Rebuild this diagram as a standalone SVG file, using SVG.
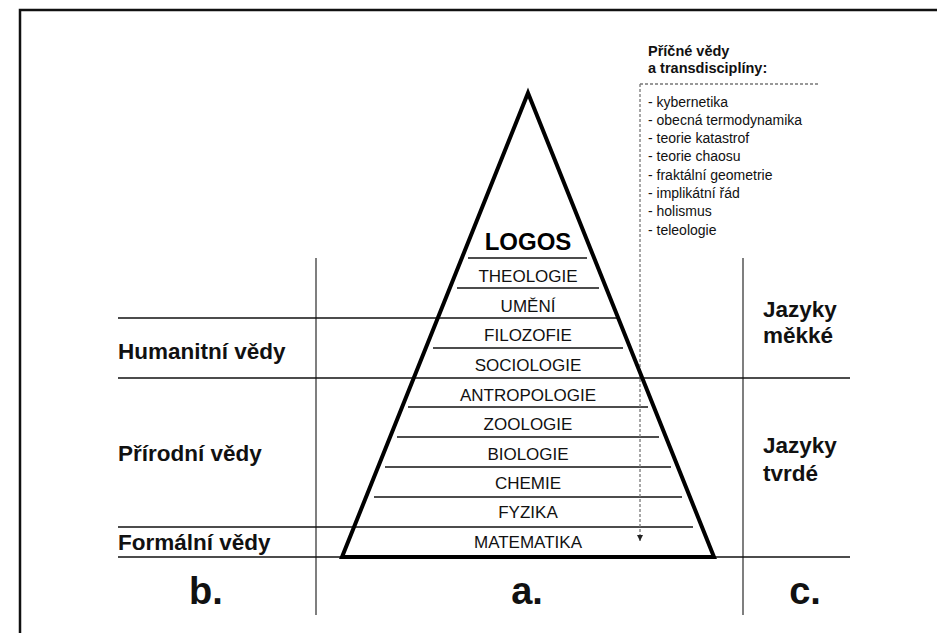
<svg xmlns="http://www.w3.org/2000/svg" width="937" height="633" viewBox="0 0 937 633">
<style>
.fr{fill:none;stroke:#111;stroke-width:2.5}
.hl{stroke:#111;stroke-width:1.3;fill:none}
.vl{stroke:#555;stroke-width:1.5;fill:none}
.dash{stroke:#777;stroke-width:1.3;stroke-dasharray:3 2;fill:none}
.tri{fill:none;stroke:#000;stroke-width:4;stroke-linejoin:miter}
.row{font-family:"Liberation Sans",Arial,sans-serif;font-size:17px;fill:#111;text-anchor:middle}
.logos{font-family:"Liberation Sans",Arial,sans-serif;font-size:24px;font-weight:bold;fill:#000;text-anchor:middle}
.lab{font-family:"Liberation Sans",Arial,sans-serif;font-size:22.5px;font-weight:bold;fill:#111}
.big{font-family:"Liberation Sans",Arial,sans-serif;font-size:38px;font-weight:bold;fill:#111;text-anchor:middle}
.ttl{font-family:"Liberation Sans",Arial,sans-serif;font-size:14.5px;font-weight:bold;fill:#111}
.li{font-family:"Liberation Sans",Arial,sans-serif;font-size:14px;fill:#111}
</style>
<defs>
<marker id="ah" viewBox="0 0 6 6" refX="6" refY="3" markerWidth="6" markerHeight="6" markerUnits="userSpaceOnUse" orient="auto">
<path d="M0,0 L6,3 L0,6 Z" fill="#222"/>
</marker>
</defs>
<rect width="937" height="633" fill="#fff"/>
<rect class="fr" x="20" y="10" width="940" height="640"/>

<g id="connectors">
<line class="vl" x1="316" y1="258" x2="316" y2="615"/>
<line class="vl" x1="743" y1="258" x2="743" y2="615"/>
<line class="hl" x1="118" y1="318" x2="617" y2="318"/>
<line class="hl" x1="118" y1="378" x2="850" y2="378"/>
<line class="hl" x1="118" y1="527" x2="693" y2="527"/>
<line class="hl" x1="118" y1="557" x2="850" y2="557"/>
<line class="hl" x1="468" y1="258" x2="587" y2="258"/>
<line class="hl" x1="457" y1="288" x2="599" y2="288"/>
<line class="hl" x1="433" y1="348" x2="623" y2="348"/>
<line class="hl" x1="408" y1="407" x2="648" y2="407"/>
<line class="hl" x1="397" y1="437" x2="659" y2="437"/>
<line class="hl" x1="385" y1="467" x2="671" y2="467"/>
<line class="hl" x1="374" y1="497" x2="682" y2="497"/>
<line class="dash" x1="818" y1="84" x2="640" y2="84"/>
<line class="dash" x1="640" y1="84" x2="640" y2="541" marker-end="url(#ah)"/>
</g>

<g id="pyramid">
<path class="tri" d="M528,93 L714,557 L342,557 Z"/>
</g>

<g id="logos"><text class="logos" x="528" y="250">LOGOS</text></g>
<g id="theologie"><text class="row" x="528" y="282">THEOLOGIE</text></g>
<g id="umeni"><text class="row" x="528" y="312">UMĚNÍ</text></g>
<g id="filozofie"><text class="row" x="528" y="341">FILOZOFIE</text></g>
<g id="sociologie"><text class="row" x="528" y="371">SOCIOLOGIE</text></g>
<g id="antropologie"><text class="row" x="528" y="401">ANTROPOLOGIE</text></g>
<g id="zoologie"><text class="row" x="528" y="430">ZOOLOGIE</text></g>
<g id="biologie"><text class="row" x="528" y="460">BIOLOGIE</text></g>
<g id="chemie"><text class="row" x="528" y="489">CHEMIE</text></g>
<g id="fyzika"><text class="row" x="528" y="518">FYZIKA</text></g>
<g id="matematika"><text class="row" x="528" y="548">MATEMATIKA</text></g>

<g id="humanitni"><text class="lab" x="118" y="359">Humanitní vědy</text></g>
<g id="prirodni"><text class="lab" x="118" y="461">Přírodní vědy</text></g>
<g id="formalni"><text class="lab" x="118" y="550">Formální vědy</text></g>

<g id="jazyky-mekke"><text class="lab" x="763" y="317">Jazyky</text><text class="lab" x="763" y="343">měkké</text></g>
<g id="jazyky-tvrde"><text class="lab" x="763" y="453">Jazyky</text><text class="lab" x="763" y="481">tvrdé</text></g>

<g id="label-b"><text class="big" x="206" y="604">b.</text></g>
<g id="label-a"><text class="big" x="527" y="604">a.</text></g>
<g id="label-c"><text class="big" x="805" y="604">c.</text></g>

<g id="transdiscipliny">
<text class="ttl" x="648" y="56">Příčné vědy</text>
<text class="ttl" x="648" y="73">a transdisciplíny:</text>
<text class="li" x="648" y="106.5">- kybernetika</text>
<text class="li" x="648" y="124.8">- obecná termodynamika</text>
<text class="li" x="648" y="143">- teorie katastrof</text>
<text class="li" x="648" y="161.3">- teorie chaosu</text>
<text class="li" x="648" y="179.6">- fraktální geometrie</text>
<text class="li" x="648" y="198">- implikátní řád</text>
<text class="li" x="648" y="216.2">- holismus</text>
<text class="li" x="648" y="234.5">- teleologie</text>
</g>
</svg>
